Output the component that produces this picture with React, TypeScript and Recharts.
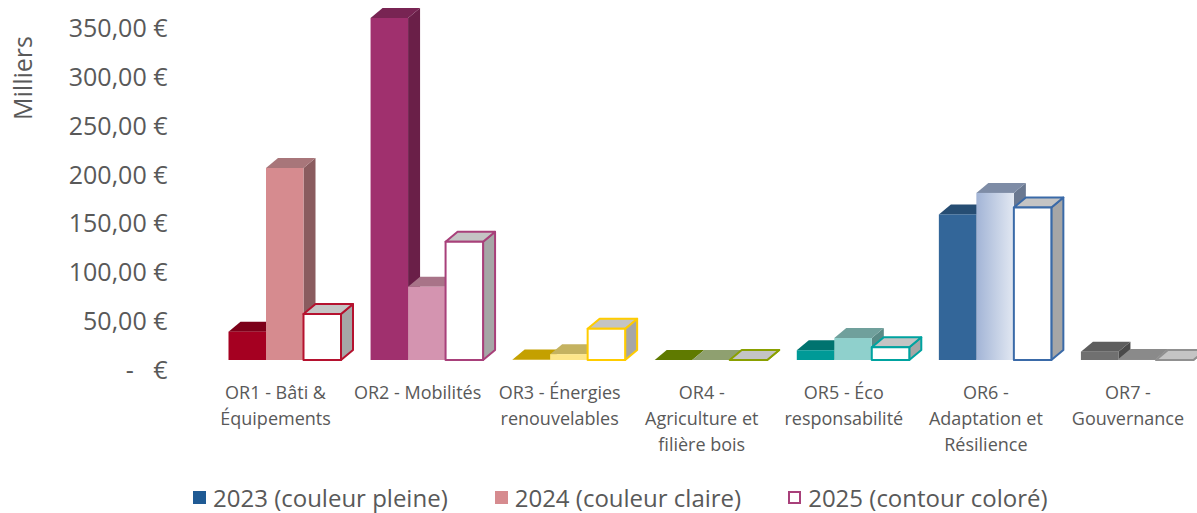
import { BarChart, Bar, XAxis, YAxis, Legend } from "recharts";

// categories + their wrapped label lines
const categories = ["OR1", "OR2", "OR3", "OR4", "OR5", "OR6", "OR7"];
const categoryLines = [
  ["OR1 - Bâti &", "Équipements"],
  ["OR2 - Mobilités"],
  ["OR3 - Énergies", "renouvelables"],
  ["OR4 -", "Agriculture et", "filière bois"],
  ["OR5 - Éco", "responsabilité"],
  ["OR6 -", "Adaptation et", "Résilience"],
  ["OR7 -", "Gouvernance"],
];

// en milliers d'euros
const values2023 = [29, 350, 0.5, 0, 10, 149, 8.5];
const values2024 = [196.5, 75, 6, 0, 22.5, 171, 1];
const values2025 = [47, 121, 32, 0, 13, 156, 0];

const yTicks = [0, 50, 100, 150, 200, 250, 300, 350];

const seriesNames = ["2023 (couleur pleine)", "2024 (couleur claire)", "2025 (contour coloré)"];

const data = categories.map((c, i) => ({
  name: c,
  v2023: values2023[i],
  v2024: values2024[i],
  v2025: values2025[i],
}));

// per-category palettes
const front2023 = ["#a50021", "#a0306e", "#c9a200", "#5f7f00", "#009a97", "#336699", "#707070"];
const top2023 = ["#7c0019", "#782453", "#c4a000", "#5f7a00", "#00736f", "#264d73", "#5e5e5e"];
const side2023 = ["#5c0012", "#6a1f48", "#8a7000", "#4a5f00", "#005a57", "#1d3b59", "#4a4a4a"];
const front2024 = ["#d68b8f", "#d494b0", "#fde68a", "#8fa070", "#8fd0cc", "url(#or6light)", "#8a8a8a"];
const top2024 = ["#a8767a", "#a87488", "#c4b260", "#8fa070", "#70a09c", "#7e8ca6", "#8a8a8a"];
const side2024 = ["#8a5c5f", "#8a5c70", "#a09050", "#6f7f55", "#5a8a86", "#6a7890", "#6a6a6a"];
const outline2025 = ["#b5122f", "#a8407a", "#ffcc00", "#8aa000", "#00a3a0", "#3a6aa8", "#909090"];

const DX = 12;
const DY = 10;
const TEXT = "#595959";
const FONT = "'Open Sans', sans-serif";

function Box3D(props: any, series: number) {
  const { x, y, width, height, index } = props;
  const w = width;
  const bottom = y + Math.max(height, 0);
  const topPts = `${x},${y} ${x + DX},${y - DY} ${x + w + DX},${y - DY} ${x + w},${y}`;
  const sidePts = `${x + w},${y} ${x + w + DX},${y - DY} ${x + w + DX},${bottom - DY} ${x + w},${bottom}`;
  if (series === 2) {
    const c = outline2025[index];
    return (
      <g strokeLinejoin="round">
        <polygon points={sidePts} fill="#a6a6a6" stroke={c} strokeWidth={2} />
        <polygon points={topPts} fill="#c4c4c4" stroke={c} strokeWidth={2} />
        {height > 0 && (
          <rect x={x} y={y} width={w} height={bottom - y} fill="#ffffff" stroke={c} strokeWidth={2} />
        )}
      </g>
    );
  }
  const front = series === 0 ? front2023[index] : front2024[index];
  const top = series === 0 ? top2023[index] : top2024[index];
  const side = series === 0 ? side2023[index] : side2024[index];
  return (
    <g>
      <polygon points={sidePts} fill={side} />
      <polygon points={topPts} fill={top} />
      {height > 0 && <rect x={x} y={y} width={w} height={bottom - y} fill={front} />}
    </g>
  );
}

function YTick(props: any) {
  const { x, y, payload } = props;
  const v = payload.value as number;
  const label = v === 0 ? "-   €" : `${v.toFixed(2).replace(".", ",")} €`;
  return (
    <text
      x={x}
      y={y + 10}
      dy="0.36em"
      textAnchor="end"
      fill={TEXT}
      fontSize={25}
      fontFamily={FONT}
      style={{ whiteSpace: "pre" }}
    >
      {label}
    </text>
  );
}

function XTick(props: any) {
  const { x, y, payload } = props;
  const lines = categoryLines[payload.index] || [payload.value];
  return (
    <text x={x - 9} y={y} textAnchor="middle" fill={TEXT} fontSize={18} fontFamily={FONT}>
      {lines.map((l, i) => (
        <tspan key={i} x={x - 9} y={y + 39 + i * 26}>
          {l}
        </tspan>
      ))}
    </text>
  );
}

function MilliersLabel(props: any) {
  const { viewBox } = props;
  const cx = 22;
  const cy = viewBox.y + 60;
  return (
    <text
      x={cx}
      y={cy}
      transform={`rotate(-90, ${cx}, ${cy})`}
      textAnchor="middle"
      dominantBaseline="central"
      fill={TEXT}
      fontSize={25}
      fontFamily={FONT}
    >
      Milliers
    </text>
  );
}

const legendMarkers = [
  { fill: "#1f5a94", stroke: "#1f5a94" },
  { fill: "#d68b8f", stroke: "#d68b8f" },
  { fill: "#ffffff", stroke: "#a8407a" },
];

function LegendContent() {
  return (
    <div
      style={{
        height: 53,
        boxSizing: "border-box",
        paddingTop: 22,
        paddingLeft: 193,
        display: "flex",
        alignItems: "center",
        gap: 47,
        fontFamily: FONT,
        fontSize: 24,
        color: TEXT,
        whiteSpace: "nowrap",
      }}
    >
      {seriesNames.map((n, i) => (
        <div key={n} style={{ display: "flex", alignItems: "center", gap: 7 }}>
          <span
            style={{
              display: "inline-block",
              width: 13,
              height: 13,
              boxSizing: "border-box",
              background: legendMarkers[i].fill,
              border: `2px solid ${legendMarkers[i].stroke}`,
            }}
          />
          <span>{n}</span>
        </div>
      ))}
    </div>
  );
}

export default function App() {
  return (
    <div style={{ position: "absolute", left: 0, top: 0, width: 1197, height: 513, overflow: "hidden", background: "#fff" }}>
      <BarChart
        width={1208}
        height={513}
        data={data}
        margin={{ top: 18, right: 0, left: 0, bottom: 0 }}
        barGap={0}
        barSize={37.5}
      >
        <defs>
          <linearGradient id="or6light" x1="0" y1="0" x2="1" y2="0">
            <stop offset="0%" stopColor="#a2b4d6" />
            <stop offset="100%" stopColor="#e2e8f2" />
          </linearGradient>
        </defs>
        <XAxis
          dataKey="name"
          axisLine={false}
          tickLine={false}
          tickSize={0}
          tickMargin={0}
          height={100}
          interval={0}
          tick={<XTick />}
        />
        <YAxis
          width={213.5}
          domain={[0, 350]}
          ticks={yTicks}
          axisLine={false}
          tickLine={false}
          tickSize={0}
          tickMargin={46}
          tick={<YTick />}
          label={<MilliersLabel />}
        />
        <Legend verticalAlign="bottom" align="left" content={<LegendContent />} wrapperStyle={{ left: 0, width: 1197 }} />
        <Bar dataKey="v2023" name={seriesNames[0]} isAnimationActive={false} shape={(p: any) => Box3D(p, 0)} />
        <Bar dataKey="v2024" name={seriesNames[1]} isAnimationActive={false} shape={(p: any) => Box3D(p, 1)} />
        <Bar dataKey="v2025" name={seriesNames[2]} isAnimationActive={false} shape={(p: any) => Box3D(p, 2)} />
      </BarChart>
    </div>
  );
}
